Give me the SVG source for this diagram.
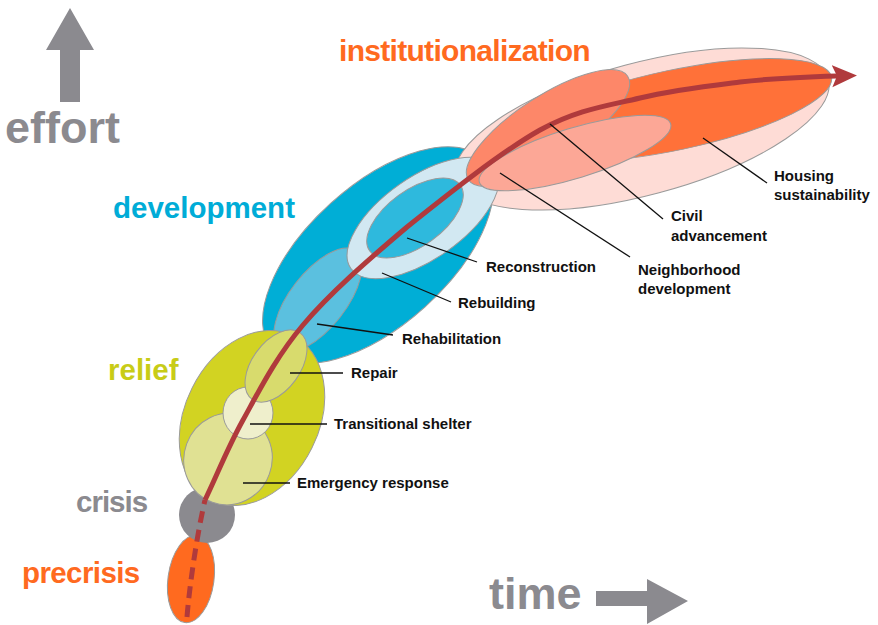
<svg xmlns="http://www.w3.org/2000/svg" width="878" height="625" viewBox="0 0 878 625">
<style>
.sh{stroke:#9a9a9a;stroke-width:1}
.cat{font-family:"Liberation Sans",Arial,sans-serif;font-weight:bold;font-size:29.5px}
.lbl{font-family:"Liberation Sans",Arial,sans-serif;font-weight:bold;font-size:15px;fill:#111}
.lead{stroke:#111;stroke-width:1.3;fill:none}
.axis{fill:#8b8a8f}
</style>
<defs>
<marker id="ah" markerUnits="userSpaceOnUse" markerWidth="30" markerHeight="26" refX="5" refY="11" orient="auto">
<path d="M0,0 L25,11 L0,22 L5,11 Z" fill="#b03a3c"/>
</marker>
</defs>
<rect width="878" height="625" fill="#ffffff"/>

<g id="axis-effort">
<polygon class="axis" points="70,8 94,50 80,50 80,102 60,102 60,50 46,50"/>
<text x="5" y="143" class="cat" style="font-size:45px;fill:#8b8a8f">effort</text>
</g>
<g id="axis-time">
<polygon class="axis" points="596,591 647,591 647,579 688,601 647,624 647,606 596,606"/>
<text x="489" y="609" class="cat" style="font-size:45px;fill:#8b8a8f">time</text>
</g>

<g id="precrisis">
<ellipse cx="191" cy="579" rx="23" ry="44" transform="rotate(8 191 579)" fill="#ff6a1f" class="sh"/>
<text x="22" y="583" class="cat" style="fill:#ff6a1f;letter-spacing:-0.6px">precrisis</text>
</g>
<g id="crisis">
<circle cx="207" cy="515" r="28" fill="#8b8a8f"/>
<text x="76" y="512" class="cat" style="fill:#8b8a8f;letter-spacing:-1px">crisis</text>
</g>

<g id="development">
<ellipse cx="378" cy="255" rx="142" ry="70" transform="rotate(-42 378 255)" fill="#00aed6" class="sh"/>
<text x="113" y="218" class="cat" style="fill:#00acd7">development</text>
</g>
<g id="institutionalization">
<ellipse cx="642" cy="129" rx="193" ry="66" transform="rotate(-15 642 129)" fill="#fedcd6" class="sh"/>
<text x="339" y="61" class="cat" style="font-size:30px;fill:#ff6a1f;letter-spacing:-0.7px">institutionalization</text>
</g>
<g id="rehabilitation">
<ellipse cx="318" cy="300" rx="62" ry="28" transform="rotate(-52 318 300)" fill="#5bc0df" class="sh"/>
</g>
<g id="rebuilding">
<ellipse cx="423" cy="218" rx="88" ry="41" transform="rotate(-35 423 218)" fill="#d2e8f2" class="sh"/>
</g>
<g id="reconstruction">
<ellipse cx="415" cy="218" rx="56" ry="28" transform="rotate(-36 415 218)" fill="#2eb9dd" class="sh"/>
</g>
<g id="housing-sustainability">
<ellipse cx="675" cy="110" rx="160" ry="40" transform="rotate(-12 675 110)" fill="#ff7139" class="sh"/>
</g>
<g id="civil-advancement">
<ellipse cx="548" cy="128" rx="95" ry="32" transform="rotate(-33 548 128)" fill="#fd8769" class="sh"/>
</g>
<g id="neighborhood-development">
<ellipse cx="575" cy="153" rx="100" ry="25" transform="rotate(-17 575 153)" fill="#fca796" class="sh"/>
</g>

<g id="relief">
<ellipse cx="252" cy="418" rx="67" ry="92" transform="rotate(26.5 252 418)" fill="#d2d322" class="sh"/>
<text x="108" y="380" class="cat" style="fill:#c8cc17">relief</text>
</g>
<g id="emergency-response">
<ellipse cx="228" cy="459" rx="44" ry="46" transform="rotate(20 228 459)" fill="#e0e193" class="sh"/>
</g>
<g id="transitional-shelter">
<ellipse cx="248" cy="413" rx="25" ry="26" fill="#efefcc" class="sh"/>
</g>
<g id="repair">
<ellipse cx="276" cy="366" rx="24" ry="41" transform="rotate(36 276 366)" fill="#d8db6d" class="sh"/>
</g>

<g id="connectors">
<path d="M187,617 C190,580 198,530 205,500" fill="none" stroke="#b03a3c" stroke-width="5" stroke-dasharray="12 7"/>
<path d="M205,500 C218,473 227,449 243,420 C259,391 276,357 303,325 C330,293 368,260 407,227 C447,195 501,152 540,130 C579,109 607,106 640,98 C673,90 708,86 740,82 C773,78 805,77 837,76" fill="none" stroke="#b03a3c" stroke-width="5" marker-end="url(#ah)"/>
<line class="lead" x1="703" y1="138" x2="767" y2="183"/>
<line class="lead" x1="550" y1="124" x2="663" y2="219"/>
<line class="lead" x1="500" y1="173" x2="630" y2="257"/>
<line class="lead" x1="407" y1="238" x2="477" y2="262"/>
<line class="lead" x1="382" y1="273" x2="451" y2="302"/>
<line class="lead" x1="317" y1="324" x2="393" y2="335"/>
<line class="lead" x1="290" y1="373" x2="343" y2="373"/>
<line class="lead" x1="250" y1="424" x2="327" y2="424"/>
<line class="lead" x1="243" y1="483" x2="290" y2="483"/>
</g>

<g id="labels">
<text class="lbl" x="774" y="181">Housing</text>
<text class="lbl" x="774" y="200">sustainability</text>
<text class="lbl" x="671" y="221">Civil</text>
<text class="lbl" x="671" y="241">advancement</text>
<text class="lbl" x="638" y="275">Neighborhood</text>
<text class="lbl" x="638" y="294">development</text>
<text class="lbl" x="486" y="272">Reconstruction</text>
<text class="lbl" x="458" y="308">Rebuilding</text>
<text class="lbl" x="402" y="344">Rehabilitation</text>
<text class="lbl" x="351" y="378">Repair</text>
<text class="lbl" x="334" y="429">Transitional shelter</text>
<text class="lbl" x="297" y="488">Emergency response</text>
</g>
</svg>
